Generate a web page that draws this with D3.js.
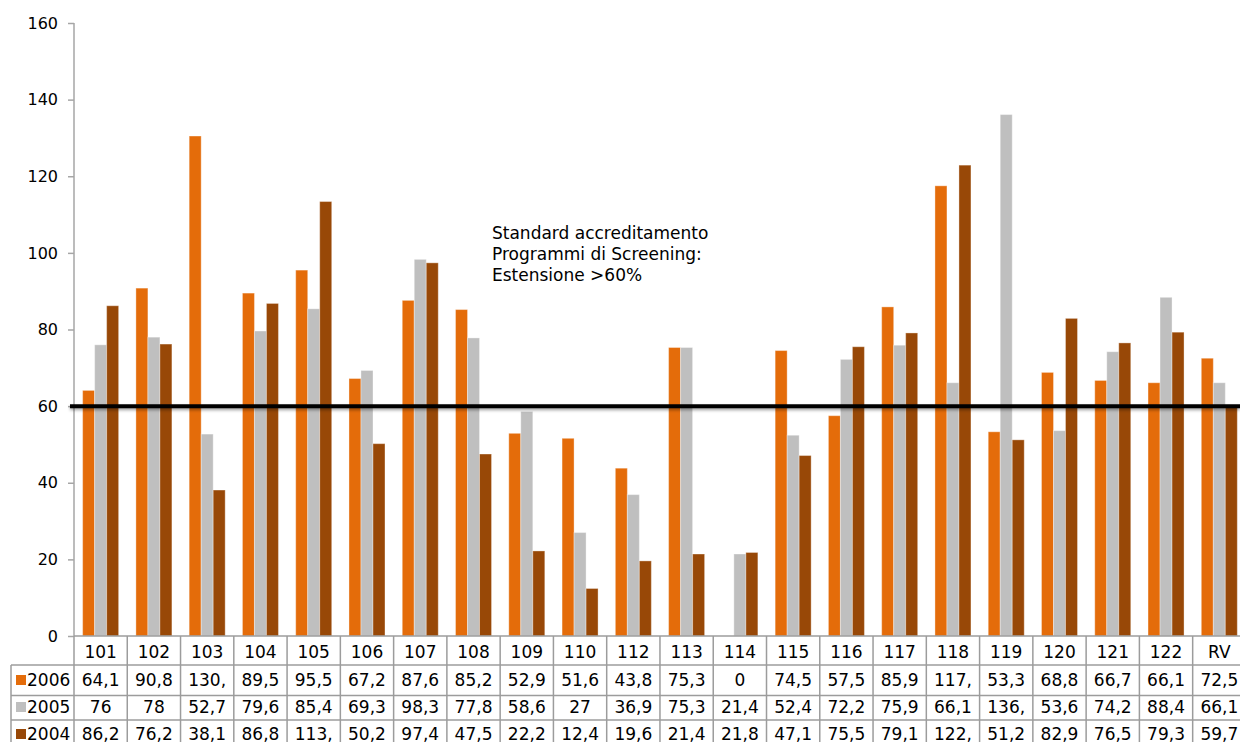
<!DOCTYPE html>
<html>
<head>
<meta charset="utf-8">
<script src="https://cdn.jsdelivr.net/npm/d3@7"></script>
<style>
  body { margin: 0; background: #fff; }
  svg text { font-family: "DejaVu Sans", Verdana, sans-serif; font-size: 17px; fill: #000; }
  .axis path, .axis line { stroke: #a6a6a6; stroke-width: 1.5; }
  .axis text { font-size: 16px; }
  .grid line { stroke: #9c9c9c; stroke-width: 1.5; }
</style>
</head>
<body>
<svg id="chart" width="1240" height="742"></svg>
<script>
    // categories (no 111 in the source) and the three years
    const categories = ["101","102","103","104","105","106","107","108","109","110","112","113","114","115","116","117","118","119","120","121","122","RV"];
    const years = ["2006","2005","2004"];
    const colors = ["#e46c0a", "#bfbfbf", "#984807"];

    const values2006 = [64.1, 90.8, 130.5, 89.5, 95.5, 67.2, 87.6, 85.2, 52.9, 51.6, 43.8, 75.3, 0, 74.5, 57.5, 85.9, 117.5, 53.3, 68.8, 66.7, 66.1, 72.5];
    const values2005 = [76, 78, 52.7, 79.6, 85.4, 69.3, 98.3, 77.8, 58.6, 27, 36.9, 75.3, 21.4, 52.4, 72.2, 75.9, 66.1, 136.1, 53.6, 74.2, 88.4, 66.1];
    const values2004 = [86.2, 76.2, 38.1, 86.8, 113.4, 50.2, 97.4, 47.5, 22.2, 12.4, 19.6, 21.4, 21.8, 47.1, 75.5, 79.1, 122.9, 51.2, 82.9, 76.5, 79.3, 59.7];
    const series = [values2006, values2005, values2004];

    const yTicks = [0, 20, 40, 60, 80, 100, 120, 140, 160];
    const threshold = 60;
    const note = ["Standard accreditamento", "Programmi di Screening:", "Estensione >60%"];

    let svg = d3.select("svg#chart");
    let width = +svg.attr("width");

    // plot area
    let margin = { left: 74, top: 23 };
    let step = 53.27;
    let plotBottom = 636;

    let x = d3.scaleBand().domain(categories)
        .range([margin.left, margin.left + step * categories.length]);
    let y = d3.scaleLinear().domain([0, 160]).range([plotBottom, margin.top]);
    let groupWidth = 36;
    let xs = d3.scaleBand().domain(years).range([0, groupWidth]);

    // drop shadow for the threshold line (user space: the line has no height)
    let defs = svg.append("defs");
    defs.append("filter").attr("id", "shadow")
        .attr("filterUnits", "userSpaceOnUse")
        .attr("x", 0).attr("y", y(threshold) - 10).attr("width", width).attr("height", 24)
      .append("feDropShadow")
        .attr("dx", 0).attr("dy", 2).attr("stdDeviation", 1.5)
        .attr("flood-color", "#000").attr("flood-opacity", 0.35);

    // bars
    let bars = svg.append("g");
    series.forEach((vals, s) => {
      bars.selectAll(null)
        .data(vals.map((v, i) => ({ cat: categories[i], v: v })))
        .join("rect")
          .attr("x", d => x(d.cat) + (step - groupWidth) / 2 + xs(years[s]))
          .attr("y", d => y(d.v))
          .attr("width", xs.bandwidth())
          .attr("height", d => plotBottom - y(d.v))
          .attr("fill", colors[s])
          .attr("stroke", "#fff").attr("stroke-opacity", 0.35).attr("stroke-width", 1);
    });

    // y axis
    let leftAxis = d3.axisLeft(y).tickValues(yTicks).tickSize(6).tickPadding(10);
    let yAxis = svg.append("g").attr("class", "axis")
        .attr("transform", "translate(" + margin.left + ",0)")
        .call(leftAxis);
    yAxis.select(".domain").attr("d", "M0," + y(160) + "V" + plotBottom);

    // threshold line
    svg.append("line")
        .attr("x1", margin.left - 4).attr("x2", width)
        .attr("y1", y(threshold)).attr("y2", y(threshold))
        .attr("stroke", "#000").attr("stroke-width", 4)
        .attr("filter", "url(#shadow)");

    // annotation
    svg.append("g").selectAll("text")
      .data(note).join("text")
        .attr("x", 492)
        .attr("y", (d, i) => 239 + i * 21)
        .text(d => d);

    // data table below the axis
    let rows = ["cat"].concat(years);
    let rowTop = d3.scaleOrdinal().domain(rows).range([plotBottom, 665, 695.5, 720]);
    let rowBase = d3.scaleOrdinal().domain(rows).range([658, 686, 713, 740]);
    let tableLeft = 11;
    let tableRight = x.range()[1];
    let grid = svg.append("g").attr("class", "grid");

    // horizontal lines
    rows.forEach((r, i) => {
      grid.append("line")
        .attr("x1", i === 0 ? margin.left : tableLeft).attr("x2", tableRight)
        .attr("y1", rowTop(r)).attr("y2", rowTop(r));
    });
    // vertical lines
    grid.append("line").attr("x1", tableLeft).attr("x2", tableLeft)
        .attr("y1", rowTop("2006")).attr("y2", 742);
    categories.concat(["end"]).forEach((c, i) => {
      let xx = margin.left + i * step;
      grid.append("line").attr("x1", xx).attr("x2", xx)
          .attr("y1", plotBottom).attr("y2", 742);
    });

    // category names
    svg.append("g").selectAll("text")
      .data(categories).join("text")
        .attr("x", d => x(d) + step / 2)
        .attr("y", rowBase("cat"))
        .attr("text-anchor", "middle")
        .text(d => d);

    // legend keys + year labels
    years.forEach((yr, s) => {
      svg.append("rect")
        .attr("x", 16).attr("y", rowBase(yr) - 11)
        .attr("width", 10).attr("height", 10)
        .attr("fill", colors[s]);
      svg.append("text")
        .attr("x", 27).attr("y", rowBase(yr))
        .text(yr);
    });

    // values, cut like the spreadsheet cells
    let fmt = v => String(v).replace(".", ",");
    series.forEach((vals, s) => {
      svg.append("g").selectAll("text")
        .data(vals.map((v, i) => ({ cat: categories[i], v: v })))
        .join("text")
          .attr("x", d => x(d.cat) + step / 2)
          .attr("y", rowBase(years[s]))
          .attr("text-anchor", "middle")
          .text(d => { let t = fmt(d.v); return t.length > 4 ? t.slice(0, 4) : t; });
    });
</script>
</body>
</html>
